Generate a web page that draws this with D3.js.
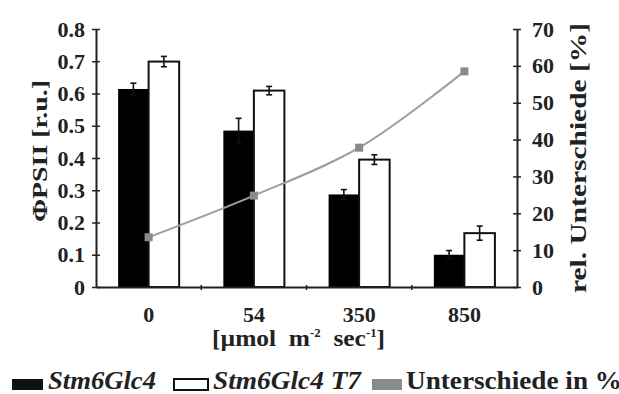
<!DOCTYPE html>
<html>
<head>
<meta charset="utf-8">
<script src="https://cdn.jsdelivr.net/npm/d3@7"></script>
<style>
  body { margin:0; background:#fff; }
  svg text { font-family:"Liberation Serif","Times New Roman",serif; font-weight:bold; fill:#222; }
</style>
</head>
<body>
<div id="vis"></div>
<script>
/* data */
const categories = ["0", "54", "350", "850"];
const stm6     = [0.614, 0.485, 0.287, 0.100];   // black bars
const stm6Err  = [0.018, 0.038, 0.015, 0.013];
const stm6T7   = [0.699, 0.609, 0.395, 0.167];   // white bars
const stm6T7Err= [0.016, 0.013, 0.015, 0.022];
const diffPct  = [13.5, 24.8, 37.8, 58.5];        // gray line, right axis
const leftTicks  = [0, 0.1, 0.2, 0.3, 0.4, 0.5, 0.6, 0.7, 0.8];
const rightTicks = [0, 10, 20, 30, 40, 50, 60, 70];

const W = 619, H = 394;
const x0 = 96, x1 = 517, yTop = 29, yBot = 287;

const svg = d3.select("#vis").append("svg")
    .attr("width", W).attr("height", H);

const x = d3.scaleBand().domain(categories).range([x0, x1]);
const yL = d3.scaleLinear().domain([0, 0.8]).range([yBot, yTop]);
const yR = d3.scaleLinear().domain([0, 70]).range([yBot, yTop]);
const barW = x.bandwidth() * 0.29;
const cx = d => x(d) + x.bandwidth() / 2;

/* bars */
const g = svg.append("g");
g.selectAll(".b1").data(categories).join("rect")
    .attr("x", d => cx(d) - barW).attr("width", barW)
    .attr("y", (d, i) => yL(stm6[i])).attr("height", (d, i) => yBot - yL(stm6[i]))
    .attr("fill", "#000");
g.selectAll(".b2").data(categories).join("rect")
    .attr("x", d => cx(d)).attr("width", barW)
    .attr("y", (d, i) => yL(stm6T7[i])).attr("height", (d, i) => yBot - yL(stm6T7[i]))
    .attr("fill", "#fff").attr("stroke", "#111").attr("stroke-width", 2);

/* error bars */
function errBars(vals, errs, off){
  categories.forEach((c, i) => {
    const xm = cx(c) + off;
    const eg = g.append("g").attr("stroke", "#111").attr("stroke-width", 1.6);
    eg.append("line").attr("x1", xm).attr("x2", xm)
      .attr("y1", yL(vals[i] - errs[i])).attr("y2", yL(vals[i] + errs[i]));
    [vals[i] - errs[i], vals[i] + errs[i]].forEach(v => {
      eg.append("line").attr("x1", xm - 3).attr("x2", xm + 3)
        .attr("y1", yL(v)).attr("y2", yL(v));
    });
  });
}
errBars(stm6, stm6Err, -barW / 2);
errBars(stm6T7, stm6T7Err, barW / 2);

/* gray line */
const line = d3.line()
    .x((d, i) => cx(categories[i]))
    .y(d => yR(d))
    .curve(d3.curveCatmullRom);
svg.append("path").datum(diffPct)
    .attr("d", line).attr("fill", "none")
    .attr("stroke", "#9e9e9e").attr("stroke-width", 2);
svg.selectAll(".mk").data(diffPct).join("rect")
    .attr("x", (d, i) => cx(categories[i]) - 4).attr("y", d => yR(d) - 4)
    .attr("width", 8).attr("height", 8).attr("fill", "#8a8a8a");

/* axes */
const axL = svg.append("g").attr("transform", `translate(${x0},0)`)
    .call(d3.axisLeft(yL).tickValues(leftTicks).tickSizeInner(4).tickSizeOuter(0)
      .tickFormat(d => d === 0 ? "0" : d3.format(".1f")(d)));
const axR = svg.append("g").attr("transform", `translate(${x1},0)`)
    .call(d3.axisRight(yR).tickValues(rightTicks).tickSizeInner(4).tickSizeOuter(0));
[axL, axR].forEach(a => {
  a.select(".domain").attr("stroke", "#222").attr("stroke-width", 2);
  a.selectAll(".tick line").clone().attr("x2", a === axL ? 4 : -4);
  a.selectAll(".tick line").attr("stroke", "#222").attr("stroke-width", 1.5);
  a.selectAll(".tick text").attr("font-size", 22).attr("fill", "#222");
});
axL.selectAll(".tick text").attr("x", -11);
axR.selectAll(".tick text").attr("x", 15);

/* bottom axis */
const axB = svg.append("g").attr("transform", `translate(0,${yBot})`)
    .call(d3.axisBottom(x).tickSize(0).tickPadding(0));
axB.select(".domain").attr("stroke", "#222").attr("stroke-width", 2);
axB.selectAll(".tick text").attr("font-size", 22).attr("fill", "#222").attr("dy", "1.6em");
axB.selectAll(".sep").data(categories.slice(1)).join("line")
    .attr("x1", d => x(d)).attr("x2", d => x(d))
    .attr("y1", -2).attr("y2", 3).attr("stroke", "#222").attr("stroke-width", 1.5);

/* titles */
svg.append("text")
    .attr("transform", "translate(47,151) rotate(-90)")
    .attr("text-anchor", "middle").attr("font-size", 22)
    .attr("textLength", 142).attr("lengthAdjust", "spacingAndGlyphs")
    .text("\u03A6PSII [r.u.]");
svg.append("text")
    .attr("transform", "translate(586,158) rotate(-90)")
    .attr("text-anchor", "middle").attr("font-size", 23)
    .attr("textLength", 270).attr("lengthAdjust", "spacingAndGlyphs")
    .text("rel.  Unterschiede [%]");

const xt = svg.append("text").attr("x", 212).attr("y", 346)
    .attr("font-size", 24)
    .attr("textLength", 173).attr("lengthAdjust", "spacingAndGlyphs");
xt.append("tspan").text("[\u00B5mol\u00A0\u00A0m");
xt.append("tspan").attr("dy", -9).attr("font-size", 12).text("-2");
xt.append("tspan").attr("dy", 9).text("\u00A0\u00A0sec");
xt.append("tspan").attr("dy", -9).attr("font-size", 12).text("-1");
xt.append("tspan").attr("dy", 9).text("]");

/* legend */
const legendItems = [
  { label: "Stm6Glc4",           fill: "#111", stroke: "none", italic: true,  x: 12,  w: 31, tx: 48,  len: 108 },
  { label: "Stm6Glc4 T7",        fill: "#fff", stroke: "#111", italic: true,  x: 174, w: 34, tx: 213, len: 148 },
  { label: "Unterschiede in %",  fill: "#8a8a8a", stroke: "none", italic: false, x: 372, w: 30, tx: 406, len: 216 }
];
const lg = svg.append("g");
legendItems.forEach(it => {
  lg.append("rect").attr("x", it.x).attr("y", 379).attr("width", it.w).attr("height", 11)
    .attr("fill", it.fill).attr("stroke", it.stroke).attr("stroke-width", 2);
  lg.append("text").attr("x", it.tx).attr("y", 389).attr("font-size", 25)
    .attr("font-style", it.italic ? "italic" : "normal")
    .attr("textLength", it.len).attr("lengthAdjust", "spacingAndGlyphs")
    .text(it.label);
});
</script>
</body>
</html>
